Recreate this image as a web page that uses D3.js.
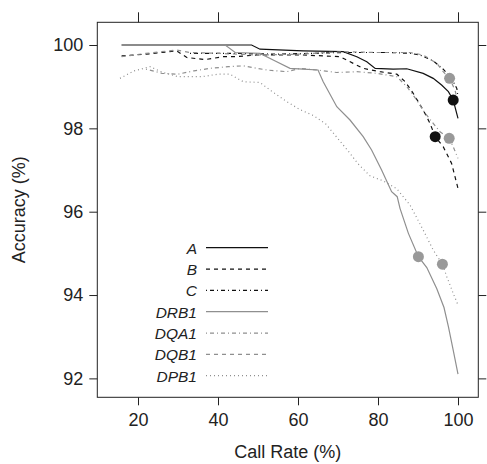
<!DOCTYPE html>
<html>
<head>
<meta charset="utf-8">
<script src="https://cdn.jsdelivr.net/npm/d3@7"></script>
<style>
  html, body { margin: 0; padding: 0; background: #fff; }
  svg { display: block; font-family: "Liberation Sans", Arial, sans-serif; }
</style>
</head>
<body>
<div id="chart"></div>
<script>
"use strict";

// ── Data ──────────────────────────────────────────────────────────────────────
const seriesNames = ["A", "B", "C", "DRB1", "DQA1", "DQB1", "DPB1"];

const xA = [15.9, 48.4, 50.5, 61.3, 71.3, 74.7, 77.2, 79.3, 83.8, 87.2, 91.3, 93.8, 95.9, 97.6, 98.8, 100];
const yA = [100, 100, 99.9, 99.86, 99.84, 99.72, 99.6, 99.44, 99.42, 99.43, 99.32, 99.2, 99.04, 98.88, 98.68, 98.24];

const xB = [15.9, 22, 29.7, 32.2, 36.8, 41.3, 44.3, 49.7, 61.3, 70.5, 73.8, 76.3, 80.5, 84.7, 86.8, 88.8, 91.3, 93, 94.3, 96.3, 98.4, 100];
const yB = [99.74, 99.78, 99.86, 99.7, 99.65, 99.72, 99.72, 99.76, 99.76, 99.72, 99.56, 99.44, 99.36, 99.3, 99.12, 98.84, 98.44, 98.12, 97.8, 97.56, 97.16, 96.56];

const xC = [33, 43.8, 55, 71.3, 83, 88, 90.5, 93.8, 96.3, 98.4, 99.7, 100];
const yC = [99.8, 99.8, 99.78, 99.82, 99.82, 99.8, 99.76, 99.62, 99.42, 99.2, 98.96, 98.76];

const xDRB1 = [15.9, 41.8, 44.3, 50.5, 53.8, 58, 61.3, 65, 66.3, 69.7, 73, 76.3, 78.4, 80.9, 83.4, 84.8, 85.5, 87.6, 90.1, 92.2, 94.7, 96.5, 97.6, 98.8, 100];
const yDRB1 = [100, 100, 99.82, 99.8, 99.64, 99.44, 99.42, 99.4, 99.12, 98.52, 98.2, 97.8, 97.48, 97.0, 96.48, 96.36, 96.08, 95.48, 94.92, 94.66, 94.15, 93.7, 93.24, 92.68, 92.1];

const xDQA1 = [22, 26, 30, 34, 38, 42.6, 46.3, 52.2, 57.2, 60.5, 64.7, 69.7, 74.7, 79.7, 84.7, 87.2, 89.7, 91.5, 93.8, 95.5, 97.8, 98.8, 100];
const yDQA1 = [99.42, 99.32, 99.3, 99.38, 99.44, 99.48, 99.5, 99.4, 99.36, 99.44, 99.4, 99.34, 99.36, 99.32, 99.24, 99.0, 98.68, 98.4, 98.12, 97.92, 97.76, 97.56, 97.28];

const xDQB1 = [15.9, 22, 29.7, 33, 40, 50, 60, 71.3, 80, 88, 91.3, 94.7, 96.3, 97.9, 99.25, 100];
const yDQB1 = [99.72, 99.8, 99.88, 99.82, 99.8, 99.76, 99.78, 99.84, 99.82, 99.82, 99.76, 99.56, 99.36, 99.2, 98.92, 98.6];

const xDPB1 = [15.5, 19, 23, 26, 30, 36, 40, 43, 46.3, 50.5, 53, 57.2, 60.5, 64, 67, 70, 72.6, 75, 78, 81.3, 84.7, 88, 91.3, 93.8, 96.1, 97.2, 98.8, 100];
const yDPB1 = [99.2, 99.38, 99.48, 99.35, 99.24, 99.24, 99.3, 99.3, 99.12, 99.1, 98.92, 98.64, 98.45, 98.3, 98.1, 97.75, 97.45, 97.15, 96.86, 96.74, 96.55, 96.16, 95.56, 95.08, 94.74, 94.44, 94.04, 93.76];

// highlighted points
const dotSeries = ["DQB1", "A", "B", "DQA1", "DRB1", "DPB1"];
const dotX = [97.9, 98.8, 94.3, 97.8, 90.1, 96.1];
const dotY = [99.2, 98.68, 97.8, 97.76, 94.92, 94.74];

const xTicks = [20, 40, 60, 80, 100];
const yTicks = [92, 94, 96, 98, 100];

// ── Styles ────────────────────────────────────────────────────────────────────
const BLACK = "#111";
const GRAY  = "#8f8f8f";
const styles = {
  A:    { color: BLACK, dash: null },
  B:    { color: BLACK, dash: "4,4" },
  C:    { color: BLACK, dash: "1,3,4,3" },
  DRB1: { color: GRAY,  dash: null },
  DQA1: { color: GRAY,  dash: "1,3,4,3" },
  DQB1: { color: GRAY,  dash: "4,4" },
  DPB1: { color: GRAY,  dash: "1,3" }
};
const dotColor = { A: "#111", B: "#111", DQB1: "#999", DQA1: "#999", DRB1: "#999", DPB1: "#999" };

const seriesData = {
  A: [xA, yA], B: [xB, yB], C: [xC, yC], DRB1: [xDRB1, yDRB1],
  DQA1: [xDQA1, yDQA1], DQB1: [xDQB1, yDQB1], DPB1: [xDPB1, yDPB1]
};

// ── Layout ────────────────────────────────────────────────────────────────────
const W = 487, H = 464;
const P = { left: 97.3, right: 478.3, top: 22.3, bottom: 397.3 };

const x = d3.scaleLinear().domain([9.825, 105.075]).range([P.left, P.right]);
const y = d3.scaleLinear().domain([91.546, 100.545]).range([P.bottom, P.top]);

const svg = d3.select("#chart").append("svg")
  .attr("width", W).attr("height", H);

// ── Axes ──
const axisStyle = (g) => {
  g.select(".domain").remove();
  g.selectAll(".tick line").attr("stroke", "#222").attr("stroke-width", 1);
  g.selectAll(".tick text").attr("fill", "#222").style("font-size", "18px");
};

svg.append("g").attr("transform", `translate(0,${P.bottom})`)
  .call(d3.axisBottom(x).tickValues(xTicks).tickSize(8).tickPadding(8))
  .call(axisStyle);
svg.append("g").attr("transform", `translate(0,${P.top})`)
  .call(d3.axisTop(x).tickValues(xTicks).tickSize(10).tickFormat(""))
  .call(axisStyle);
svg.append("g").attr("transform", `translate(${P.left},0)`)
  .call(d3.axisLeft(y).tickValues(yTicks).tickSize(8).tickPadding(6))
  .call(axisStyle);
svg.append("g").attr("transform", `translate(${P.right},0)`)
  .call(d3.axisRight(y).tickValues(yTicks).tickSize(8).tickFormat(""))
  .call(axisStyle);

svg.append("rect")
  .attr("x", P.left).attr("y", P.top)
  .attr("width", P.right - P.left).attr("height", P.bottom - P.top)
  .attr("fill", "none").attr("stroke", "#222").attr("stroke-width", 1);

// axis titles
svg.append("text")
  .attr("x", (P.left + P.right) / 2).attr("y", 458)
  .attr("text-anchor", "middle").style("font-size", "18px").attr("fill", "#222")
  .text("Call Rate (%)");
svg.append("text")
  .attr("transform", `translate(25,${(P.top + P.bottom) / 2}) rotate(-90)`)
  .attr("text-anchor", "middle").style("font-size", "18px").attr("fill", "#222")
  .text("Accuracy (%)");

// ── Lines ──
const clip = svg.append("defs").append("clipPath").attr("id", "plot-clip");
clip.append("rect").attr("x", P.left).attr("y", P.top)
  .attr("width", P.right - P.left).attr("height", P.bottom - P.top);

const plot = svg.append("g").attr("clip-path", "url(#plot-clip)");
const line = d3.line().x((d) => x(d[0])).y((d) => y(d[1]));

// later series drawn on top (DRB1 hides A along the 100% line)
seriesNames.forEach((name) => {
  const [xs, ys] = seriesData[name];
  const pts = xs.map((v, i) => [v, ys[i]]);
  plot.append("path")
    .datum(pts)
    .attr("d", line)
    .attr("fill", "none")
    .attr("stroke", styles[name].color)
    .attr("stroke-width", 1.2)
    .attr("stroke-dasharray", styles[name].dash);
});

// ── Dots ──
plot.selectAll("circle.dot")
  .data(dotX.map((v, i) => ({ s: dotSeries[i], x: v, y: dotY[i] })))
  .join("circle")
  .attr("class", "dot")
  .attr("cx", (d) => x(d.x))
  .attr("cy", (d) => y(d.y))
  .attr("r", 5.5)
  .attr("fill", (d) => dotColor[d.s]);

// ── Legend ──
const legendY = d3.scalePoint().domain(seriesNames).range([247.7, 375.7]);
const legend = svg.append("g");
seriesNames.forEach((name) => {
  const ly = legendY(name);
  legend.append("text")
    .attr("x", 197).attr("y", ly + 6)
    .attr("text-anchor", "end")
    .style("font-size", "15.5px").style("font-style", "italic")
    .attr("fill", "#222")
    .text(name);
  legend.append("line")
    .attr("x1", 206).attr("x2", 268)
    .attr("y1", ly).attr("y2", ly)
    .attr("stroke", styles[name].color)
    .attr("stroke-width", 1.2)
    .attr("stroke-dasharray", styles[name].dash);
});
</script>
</body>
</html>
